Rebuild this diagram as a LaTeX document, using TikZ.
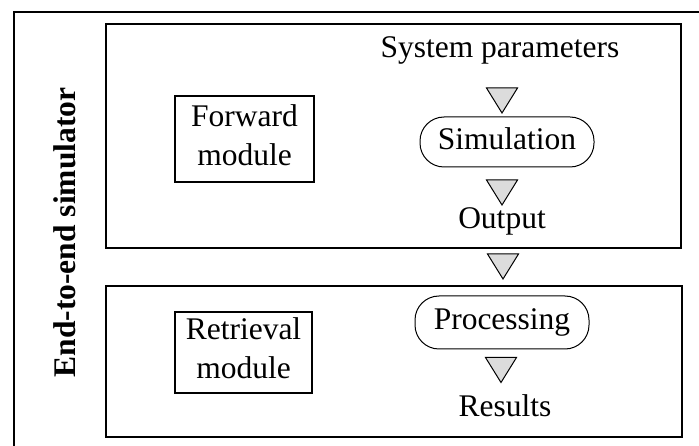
\documentclass[tikz,border=0pt]{standalone}
\usepackage{fontspec}
\setmainfont{Liberation Serif}
\definecolor{trigray}{HTML}{DCDCDC}
\begin{document}
\begin{tikzpicture}[x=1pt,y=-1pt,
  txt/.style={font=\fontsize{31.5}{39}\selectfont, inner sep=0pt},
  frame/.style={draw, line width=2.8pt},
  modbox/.style={draw, line width=2.6pt, txt, align=center, text depth=8pt},
  procbox/.style={draw, line width=1pt, rounded corners=24pt, txt, text height=22pt, text depth=7pt},
  tri/.style={draw, line width=1pt, fill=trigray, line join=miter},
  flowtri/.pic={\draw[tri] (-15.5,-12.5) -- (15.5,-12.5) -- (0,12.5) -- cycle;}
]
\useasboundingbox (0,0) rectangle (699,446);
\begin{scope}
  \clip (0,0) rectangle (699,446);
  \draw[frame] (14,12) rectangle (720,470);
\end{scope}
% module frames
\draw[frame] (106,24) rectangle (681,248);
\draw[frame] (106,286) rectangle (682,437);
% side label
\node[txt, font=\fontsize{31.5}{39}\selectfont\bfseries, rotate=90, anchor=base] (sim) at (75,232.5) {End-to-end simulator};
% module boxes
\node[modbox, minimum width=139pt, minimum height=86pt] (fwd) at (244.5,139) {Forward\\module};
\node[modbox, minimum width=137pt, minimum height=81pt] (ret) at (243.5,352.5) {Retrieval\\module};
% process boxes
\node[procbox, minimum width=174pt, minimum height=50pt] (simu) at (507,142) {Simulation};
\node[procbox, minimum width=174pt, minimum height=53pt] (proc) at (502,322.5) {Processing};
% labels
\node[txt, anchor=base] (sp) at (500,58) {System parameters};
\node[txt, anchor=base] (out) at (502,229) {Output};
\node[txt, anchor=base] (res) at (505,416) {Results};
% flow triangles
\pic (t1) at (502,100.5) {flowtri};
\pic (t2) at (502,192.5) {flowtri};
\pic (t3) at (503,266.5) {flowtri};
\pic (t4) at (501,370) {flowtri};
\end{tikzpicture}
\end{document}
